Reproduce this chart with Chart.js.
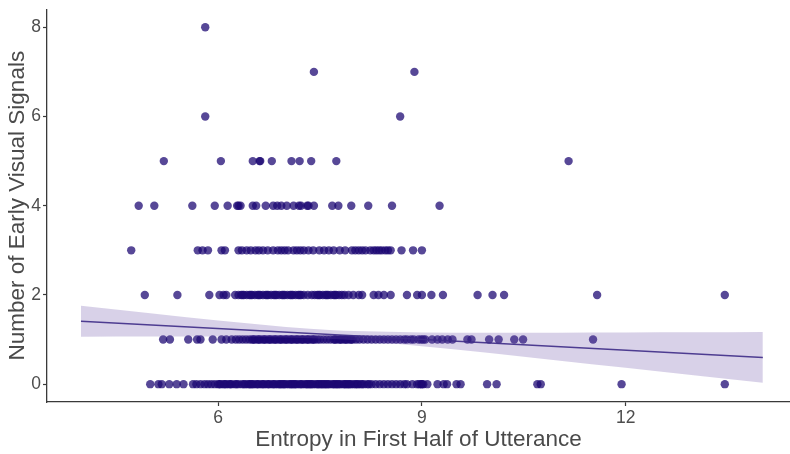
<!DOCTYPE html>
<html>
<head>
<meta charset="utf-8">
<script src="https://cdn.jsdelivr.net/npm/chart.js@4"></script>
<style>
  html, body { margin: 0; padding: 0; background: #ffffff; }
  #wrap { width: 790px; height: 454px; }
</style>
</head>
<body>
<div id="wrap"><canvas id="c" width="790" height="454"></canvas></div>
<script>
// ---- Data (x = entropy, grouped by y = number of early visual signals) ----
const signals0 = [5.00, 5.12, 5.17, 5.28, 5.39, 5.49, 5.63, 5.68, 5.74, 5.80, 5.85, 5.90, 5.95, 6.00, 6.04, 6.08, 6.12, 6.16, 6.20, 6.25, 6.30, 6.35, 6.40, 6.44, 6.48, 6.52, 6.56, 6.60, 6.64, 6.68, 6.72, 6.76, 6.80, 6.84, 6.88, 6.92, 6.96, 7.00, 7.04, 7.08, 7.12, 7.16, 7.20, 7.24, 7.28, 7.32, 7.36, 7.40, 7.44, 7.48, 7.52, 7.56, 7.60, 7.64, 7.68, 7.72, 7.76, 7.80, 7.84, 7.88, 7.92, 7.96, 8.00, 8.05, 8.10, 8.15, 8.20, 8.26, 8.32, 8.38, 8.44, 8.50, 8.56, 8.62, 8.68, 8.74, 8.78, 8.86, 8.93, 9.00, 9.08, 9.23, 9.32, 9.37, 9.51, 9.57, 9.96, 10.10, 10.70, 10.75, 11.94, 13.46,
  6.02, 6.10, 6.18, 6.27, 6.38, 6.46, 6.50, 6.58, 6.66, 6.74, 6.82, 6.90, 6.94, 6.98, 7.06, 7.10, 7.14, 7.22, 7.30, 7.34, 7.38, 7.46, 7.50, 7.54, 7.58, 7.62, 7.70, 7.74, 7.78, 7.86, 7.90, 7.94, 8.02, 8.06, 8.12, 8.22, 8.96, 8.99, 9.02];
const signals1 = [5.19, 5.29, 5.56, 5.69, 5.74, 5.92, 6.05, 6.12, 6.20, 6.26, 6.31, 6.36, 6.41, 6.46, 6.50, 6.54, 6.58, 6.62, 6.66, 6.70, 6.74, 6.78, 6.82, 6.86, 6.90, 6.94, 6.98, 7.02, 7.06, 7.10, 7.14, 7.18, 7.22, 7.26, 7.30, 7.34, 7.38, 7.42, 7.46, 7.50, 7.55, 7.60, 7.65, 7.70, 7.74, 7.78, 7.82, 7.86, 7.90, 7.94, 7.98, 8.03, 8.08, 8.14, 8.20, 8.26, 8.32, 8.38, 8.44, 8.50, 8.56, 8.62, 8.68, 8.74, 8.78, 8.84, 8.95, 9.05, 9.15, 9.23, 9.30, 9.38, 9.45, 9.67, 9.73, 9.99, 10.13, 10.36, 10.49, 11.52,
  6.52, 6.60, 6.68, 6.76, 6.84, 6.92, 7.00, 7.08, 7.16, 7.24, 7.32, 7.40, 7.72, 7.80, 7.88, 7.96, 8.88, 8.99, 9.02];
const signals2 = [4.92, 5.40, 5.87, 6.02, 6.08, 6.12, 6.25, 6.30, 6.34, 6.38, 6.42, 6.46, 6.50, 6.54, 6.58, 6.62, 6.66, 6.70, 6.74, 6.78, 6.82, 6.86, 6.90, 6.94, 6.98, 7.02, 7.06, 7.10, 7.14, 7.18, 7.22, 7.26, 7.32, 7.38, 7.42, 7.46, 7.50, 7.54, 7.58, 7.62, 7.66, 7.70, 7.74, 7.78, 7.82, 7.86, 7.92, 7.99, 8.07, 8.12, 8.29, 8.36, 8.44, 8.54, 8.78, 8.93, 9.00, 9.14, 9.31, 9.82, 10.04, 10.21, 11.58, 13.46,
  6.36, 6.48, 6.60, 6.72, 6.84, 6.96, 7.08, 7.20, 7.48, 7.60, 7.72];
const signals3 = [4.72, 5.70, 5.77, 5.85, 6.05, 6.10, 6.30, 6.35, 6.42, 6.48, 6.55, 6.60, 6.66, 6.73, 6.81, 6.88, 6.93, 6.98, 7.03, 7.11, 7.16, 7.21, 7.26, 7.33, 7.40, 7.49, 7.56, 7.63, 7.70, 7.79, 7.87, 7.97, 8.02, 8.07, 8.12, 8.17, 8.24, 8.29, 8.33, 8.37, 8.41, 8.46, 8.50, 8.54, 8.70, 8.87, 9.00];
const signals4 = [4.83, 5.06, 5.62, 5.95, 6.14, 6.28, 6.30, 6.33, 6.51, 6.56, 6.70, 6.81, 6.87, 6.93, 7.01, 7.11, 7.19, 7.22, 7.31, 7.33, 7.41, 7.68, 7.77, 7.96, 8.21, 8.56, 9.26];
const signals5 = [5.20, 6.04, 6.51, 6.61, 6.62, 6.79, 7.08, 7.20, 7.37, 7.74, 11.16];
const signals6 = [5.81, 8.68];
const signals7 = [7.41, 8.89];
const signals8 = [5.81];

// Linear fit and its confidence band
const fitX = [3.98, 14.02];
const fitY = [1.41, 0.60];
const bandX = [3.98, 5, 6, 7, 7.7, 8, 9, 10, 11, 12, 13, 14.02];
const bandLower = [1.065, 1.07, 1.066, 1.048, 1.01, 0.983, 0.852, 0.697, 0.533, 0.368, 0.201, 0.03];
const bandUpper = [1.755, 1.59, 1.428, 1.284, 1.21, 1.189, 1.158, 1.151, 1.153, 1.158, 1.163, 1.17];

const xTicks = [6, 9, 12];
const yTicks = [0, 2, 4, 6, 8];
const xTitle = 'Entropy in First Half of Utterance';
const yTitle = 'Number of Early Visual Signals';

// ---- Build chart data ----
const rows = [signals0, signals1, signals2, signals3, signals4, signals5, signals6, signals7, signals8];
const points = [];
rows.forEach((xs, y) => xs.forEach(x => points.push({ x: x, y: y })));
const fitData = fitX.map((x, i) => ({ x: x, y: fitY[i] }));
const lowerData = bandX.map((x, i) => ({ x: x, y: bandLower[i] }));
const upperData = bandX.map((x, i) => ({ x: x, y: bandUpper[i] }));

const FONT = "'Liberation Sans', Arial, Helvetica, sans-serif";
const axisColor = '#3a3a3a';

new Chart(document.getElementById('c'), {
  type: 'scatter',
  data: {
    datasets: [
      {
        label: 'points', data: points, order: 3,
        backgroundColor: 'rgba(28,8,115,0.74)', borderWidth: 0,
        pointRadius: 4.2, pointHoverRadius: 4.2, showLine: false
      },
      {
        label: 'lower', data: lowerData, order: 2, type: 'line',
        borderWidth: 0, borderColor: 'rgba(0,0,0,0)', pointRadius: 0,
        fill: false, cubicInterpolationMode: 'monotone'
      },
      {
        label: 'upper', data: upperData, order: 2, type: 'line',
        borderWidth: 0, borderColor: 'rgba(0,0,0,0)', pointRadius: 0,
        fill: '-1', backgroundColor: 'rgba(100,70,165,0.25)', cubicInterpolationMode: 'monotone'
      },
      {
        label: 'fit', data: fitData, order: 1, type: 'line',
        borderColor: 'rgba(62,44,135,0.9)', borderWidth: 1.5, pointRadius: 0, fill: false
      }
    ]
  },
  options: {
    responsive: false,
    animation: false,
    devicePixelRatio: 1,
    layout: { autoPadding: false, padding: { top: 8, right: 0, left: 0, bottom: 0 } },
    plugins: { legend: { display: false }, tooltip: { enabled: false } },
    scales: {
      x: {
        type: 'linear', min: 3.48, max: 14.42,
        afterBuildTicks: s => { s.ticks = xTicks.map(v => ({ value: v })); },
        afterFit: s => { s.height = 52; },
        grid: { drawOnChartArea: false, drawTicks: true, tickLength: 4, tickColor: axisColor, tickWidth: 1.2 },
        border: { display: true, color: axisColor, width: 1.3 },
        ticks: { color: '#4d4d4d', font: { family: FONT, size: 17.5 }, padding: 2, maxRotation: 0 },
        title: { display: true, text: xTitle, color: '#4a4a4a', font: { family: FONT, size: 22.5 }, padding: { top: 0, bottom: 1 } }
      },
      y: {
        type: 'linear', min: -0.4, max: 8.4,
        afterBuildTicks: s => { s.ticks = yTicks.map(v => ({ value: v })); },
        afterFit: s => { s.width = 47; },
        grid: { drawOnChartArea: false, drawTicks: true, tickLength: 4, tickColor: axisColor, tickWidth: 1.2 },
        border: { display: true, color: axisColor, width: 1.3 },
        ticks: { color: '#4d4d4d', font: { family: FONT, size: 17.5, lineHeight: 0.85 }, padding: 2 },
        title: { display: true, text: yTitle, color: '#4a4a4a', font: { family: FONT, size: 22.5 }, padding: { top: 4, bottom: 0 } }
      }
    }
  }
});
</script>
</body>
</html>
